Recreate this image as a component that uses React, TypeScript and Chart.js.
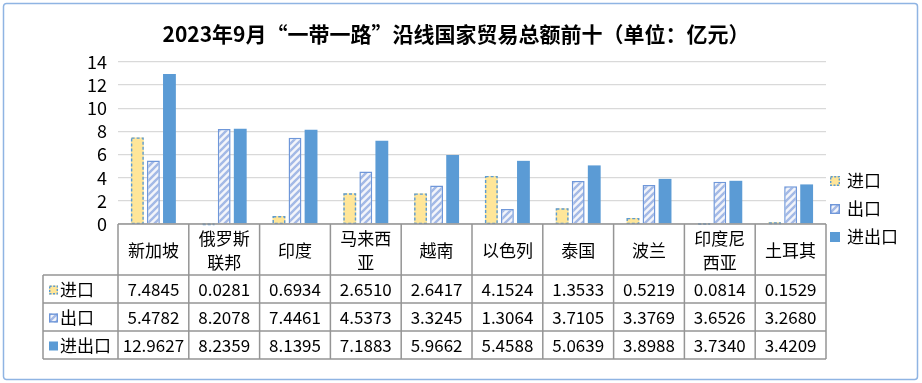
import React, { useEffect, useRef } from 'react';
import { Chart, registerables } from 'chart.js';
Chart.register(...registerables);

const chartTitle = '2023年9月“一带一路”沿线国家贸易总额前十（单位：亿元）';
const categories: string[][] = [['新加坡'], ['俄罗斯', '联邦'], ['印度'], ['马来西', '亚'], ['越南'], ['以色列'], ['泰国'], ['波兰'], ['印度尼', '西亚'], ['土耳其']];
const seriesNames = ['进口', '出口', '进出口'];
const importValues = [7.4845, 0.0281, 0.6934, 2.651, 2.6417, 4.1524, 1.3533, 0.5219, 0.0814, 0.1529];
const exportValues = [5.4782, 8.2078, 7.4461, 4.5373, 3.3245, 1.3064, 3.7105, 3.3769, 3.6526, 3.268];
const totalValues = [12.9627, 8.2359, 8.1395, 7.1883, 5.9662, 5.4588, 5.0639, 3.8988, 3.734, 3.4209];
const yMin = 0;
const yMax = 14;
const yStep = 2;

const FONT = '"Noto Sans CJK SC", "Noto Sans", sans-serif';
const YELLOW = '#ffe699';
const DASH_BLUE = '#5b9bd5';
const SOLID_BLUE = '#5b9bd5';
const HATCH_BORDER = '#6f97d9';
const GRID_TABLE = '#959595';

function makeHatch(): CanvasPattern | string {
  const s = 7;
  const c = document.createElement('canvas');
  c.width = s;
  c.height = s;
  const g = c.getContext('2d');
  if (!g) return '#dde6f5';
  g.fillStyle = '#f3f5fa';
  g.fillRect(0, 0, s, s);
  g.strokeStyle = '#a3b9e6';
  g.lineWidth = 2.4;
  g.beginPath();
  g.moveTo(-1, s + 1);
  g.lineTo(s + 1, -1);
  g.moveTo(-s / 2 - 1, s / 2 + 1);
  g.lineTo(s / 2 + 1, -s / 2 - 1);
  g.moveTo(s / 2 - 1, s * 1.5 + 1);
  g.lineTo(s * 1.5 + 1, s / 2 - 1);
  g.stroke();
  const p = g.createPattern(c, 'repeat');
  return p || '#dde6f5';
}

function drawKey(ctx: CanvasRenderingContext2D, idx: number, x: number, y: number, size: number, hatch: any) {
  ctx.save();
  if (idx === 0) {
    ctx.fillStyle = YELLOW;
    ctx.fillRect(x, y, size, size);
    ctx.setLineDash([2, 1.5]);
    ctx.strokeStyle = DASH_BLUE;
    ctx.lineWidth = 1.4;
    ctx.strokeRect(x + 0.7, y + 0.7, size - 1.4, size - 1.4);
  } else if (idx === 1) {
    ctx.fillStyle = hatch;
    ctx.fillRect(x, y, size, size);
    ctx.strokeStyle = HATCH_BORDER;
    ctx.lineWidth = 1.4;
    ctx.strokeRect(x + 0.7, y + 0.7, size - 1.4, size - 1.4);
  } else {
    ctx.fillStyle = SOLID_BLUE;
    ctx.fillRect(x, y, size, size);
  }
  ctx.restore();
}

export default function App() {
  const ref = useRef<HTMLCanvasElement | null>(null);

  useEffect(() => {
    document.body.style.margin = '0';
    const canvas = ref.current;
    if (!canvas) return;
    const hatch = makeHatch();

    const decorPlugin = {
      id: 'decor',
      afterDatasetsDraw(chart: any) {
        const ctx: CanvasRenderingContext2D = chart.ctx;
        const meta = chart.getDatasetMeta(0);
        ctx.save();
        ctx.setLineDash([3, 2]);
        ctx.strokeStyle = DASH_BLUE;
        ctx.lineWidth = 1.4;
        meta.data.forEach((el: any) => {
          const w = el.width;
          const left = el.x - w / 2;
          const top = Math.min(el.y, el.base);
          const h = Math.abs(el.base - el.y);
          ctx.strokeRect(left + 0.7, top + 0.7, w - 1.4, Math.max(h - 0.7, 0.5));
        });
        ctx.restore();
      },
      afterDraw(chart: any) {
        const ctx: CanvasRenderingContext2D = chart.ctx;
        const area = chart.chartArea;
        const xs = chart.scales.x;
        ctx.save();

        // outer frame
        ctx.strokeStyle = '#8fb4e3';
        ctx.lineWidth = 1.5;
        ctx.beginPath();
        ctx.roundRect(3.5, 3.5, 914, 376, 3);
        ctx.stroke();

        // title
        ctx.fillStyle = '#000';
        ctx.font = `bold 21px ${FONT}`;
        ctx.textAlign = 'center';
        ctx.textBaseline = 'middle';
        ctx.fillText(chartTitle, 456, 34);

        // table
        const n = categories.length;
        const colW = (area.right - area.left) / n;
        const top = area.bottom;
        const headH = 51;
        const rowH = 28;
        const tableLeft = 43;
        const bottom = top + headH + rowH * 3;

        ctx.strokeStyle = GRID_TABLE;
        ctx.lineWidth = 1.5;
        ctx.setLineDash([]);
        ctx.beginPath();
        ctx.moveTo(area.left, top);
        ctx.lineTo(area.right, top);
        for (let r = 0; r <= 3; r++) {
          const yy = top + headH + r * rowH;
          ctx.moveTo(tableLeft, yy);
          ctx.lineTo(area.right, yy);
        }
        for (let i = 0; i <= n; i++) {
          const xx = area.left + i * colW;
          ctx.moveTo(xx, top);
          ctx.lineTo(xx, bottom);
        }
        ctx.moveTo(tableLeft, top + headH);
        ctx.lineTo(tableLeft, bottom);
        ctx.stroke();

        // category labels
        ctx.fillStyle = '#000';
        ctx.font = `17px ${FONT}`;
        ctx.textAlign = 'center';
        ctx.textBaseline = 'middle';
        const headMid = top + headH / 2 + 1;
        categories.forEach((lines, i) => {
          const cx = xs.getPixelForValue(i);
          const lh = 24;
          const y0 = headMid - ((lines.length - 1) * lh) / 2;
          lines.forEach((t, k) => ctx.fillText(t, cx, y0 + k * lh));
        });

        // data rows
        const rows = [importValues, exportValues, totalValues];
        rows.forEach((vals, r) => {
          const cy = top + headH + r * rowH + rowH / 2 + 1;
          drawKey(ctx, r, 49, cy - 4.5, 9, hatch);
          ctx.fillStyle = '#000';
          ctx.font = `17px ${FONT}`;
          ctx.textAlign = 'left';
          ctx.fillText(seriesNames[r], 60, cy);
          ctx.textAlign = 'center';
          vals.forEach((v, i) => {
            ctx.fillText(v.toFixed(4), xs.getPixelForValue(i), cy);
          });
        });

        // legend
        seriesNames.forEach((name, r) => {
          const cy = 181 + r * 28;
          drawKey(ctx, r, 830, cy - 5, 10, hatch);
          ctx.fillStyle = '#000';
          ctx.font = `17px ${FONT}`;
          ctx.textAlign = 'left';
          ctx.fillText(name, 847, cy);
        });

        ctx.restore();
      },
    };

    const chart = new Chart(canvas, {
      type: 'bar',
      data: {
        labels: categories.map((c) => c.join('')),
        datasets: [
          {
            label: seriesNames[0],
            data: importValues,
            backgroundColor: YELLOW,
            borderWidth: 0,
          },
          {
            label: seriesNames[1],
            data: exportValues,
            backgroundColor: hatch as any,
            borderColor: HATCH_BORDER,
            borderWidth: 1.5,
            borderSkipped: 'bottom',
          },
          {
            label: seriesNames[2],
            data: totalValues,
            backgroundColor: SOLID_BLUE,
            borderWidth: 0,
          },
        ],
      },
      options: {
        responsive: false,
        animation: false,
        devicePixelRatio: 1,
        layout: { padding: { left: 0, right: 96, top: 62, bottom: 159 } },
        datasets: {
          bar: { categoryPercentage: 0.68, barPercentage: 0.8 },
        },
        plugins: {
          legend: { display: false },
          title: { display: false },
          tooltip: { enabled: false },
        },
        scales: {
          x: {
            ticks: { display: false },
            grid: { display: false },
            border: { display: false },
            afterFit: (s: any) => {
              s.height = 0;
            },
          },
          y: {
            min: yMin,
            max: yMax,
            ticks: {
              stepSize: yStep,
              autoSkip: false,
              color: '#000',
              padding: 11,
              font: { family: FONT, size: 18 },
            },
            grid: { color: '#d9d9d9', lineWidth: 1.3, drawTicks: false },
            border: { display: false },
            afterFit: (s: any) => {
              s.width = 118;
            },
          },
        },
      },
      plugins: [decorPlugin],
    });
    return () => chart.destroy();
  }, []);

  return (
    <div style={{ width: 922, height: 383, background: '#fff' }}>
      <canvas ref={ref} width={922} height={383} style={{ display: 'block' }} />
    </div>
  );
}
